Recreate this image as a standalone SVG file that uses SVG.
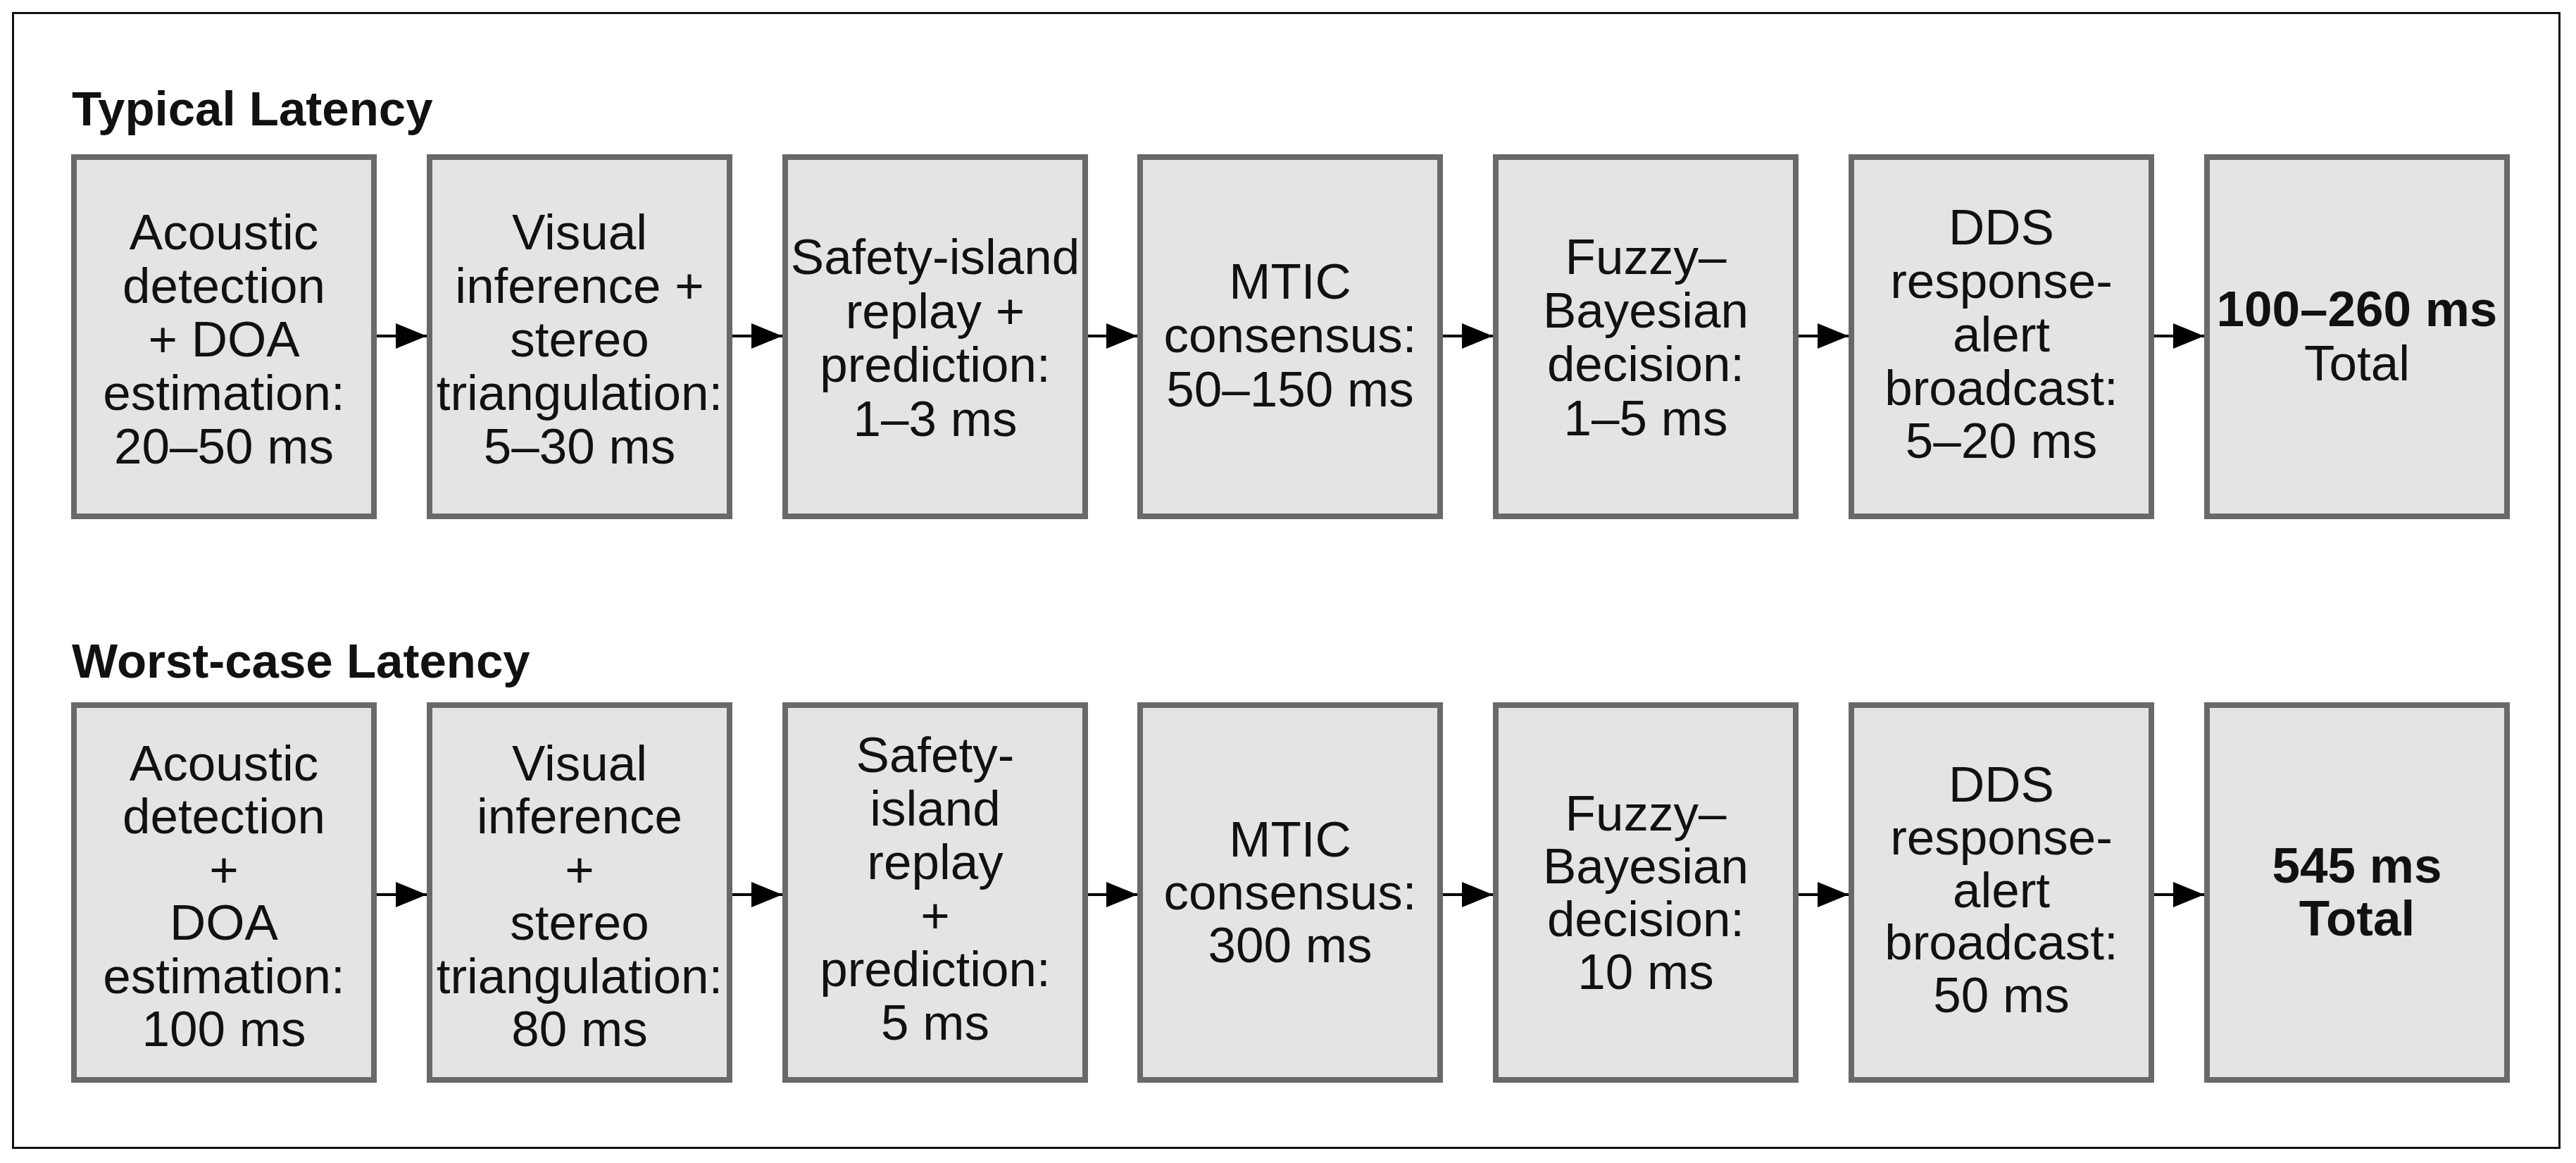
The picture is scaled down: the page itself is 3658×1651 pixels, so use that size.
<svg xmlns="http://www.w3.org/2000/svg" width="3658" height="1651" viewBox="0 0 3658 1651">
<defs>
<marker id="ah" markerUnits="userSpaceOnUse" markerWidth="44" markerHeight="36" refX="44" refY="18" orient="auto">
<path d="M0,0 L44,18 L0,36 Z" fill="#000"/>
</marker>
</defs>
<style>
.box{fill:#e4e4e4;stroke:#696969;stroke-width:8}
.t{font-family:"Liberation Sans",Arial,sans-serif;font-size:71px;fill:#111;text-anchor:middle}
.b{font-weight:bold}
.title{font-family:"Liberation Sans",Arial,sans-serif;font-size:69px;font-weight:bold;fill:#111}
.conn{stroke:#000;stroke-width:4;fill:none;marker-end:url(#ah)}
</style>
<rect x="0" y="0" width="3658" height="1651" fill="#fff"/>
<rect x="18.5" y="18.5" width="3616" height="1611" fill="none" stroke="#111" stroke-width="3"/>
<text class="title" x="102" y="178">Typical Latency</text>
<text class="title" x="102" y="962">Worst-case Latency</text>

<g id="t1"><rect class="box" x="105" y="223" width="426" height="510"/>
<text class="t" x="318"><tspan x="318" y="354">Acoustic</tspan><tspan x="318" y="430">detection</tspan><tspan x="318" y="506">+ DOA</tspan><tspan x="318" y="582">estimation:</tspan><tspan x="318" y="658">20–50 ms</tspan></text></g>
<g id="t2"><rect class="box" x="610" y="223" width="426" height="510"/>
<text class="t" x="823"><tspan x="823" y="354">Visual</tspan><tspan x="823" y="430">inference +</tspan><tspan x="823" y="506">stereo</tspan><tspan x="823" y="582">triangulation:</tspan><tspan x="823" y="658">5–30 ms</tspan></text></g>
<g id="t3"><rect class="box" x="1115" y="223" width="426" height="510"/>
<text class="t" x="1328"><tspan x="1328" y="389">Safety-island</tspan><tspan x="1328" y="466">replay +</tspan><tspan x="1328" y="542">prediction:</tspan><tspan x="1328" y="619">1–3 ms</tspan></text></g>
<g id="t4"><rect class="box" x="1619" y="223" width="426" height="510"/>
<text class="t" x="1832"><tspan x="1832" y="424">MTIC</tspan><tspan x="1832" y="500">consensus:</tspan><tspan x="1832" y="577">50–150 ms</tspan></text></g>
<g id="t5"><rect class="box" x="2124" y="223" width="426" height="510"/>
<text class="t" x="2337"><tspan x="2337" y="389">Fuzzy–</tspan><tspan x="2337" y="465">Bayesian</tspan><tspan x="2337" y="541">decision:</tspan><tspan x="2337" y="618">1–5 ms</tspan></text></g>
<g id="t6"><rect class="box" x="2629" y="223" width="426" height="510"/>
<text class="t" x="2842"><tspan x="2842" y="347">DDS</tspan><tspan x="2842" y="423">response-</tspan><tspan x="2842" y="499">alert</tspan><tspan x="2842" y="575">broadcast:</tspan><tspan x="2842" y="650">5–20 ms</tspan></text></g>
<g id="t7"><rect class="box" x="3134" y="223" width="426" height="510"/>
<text class="t" x="3347"><tspan class="b" x="3347" y="463">100–260 ms</tspan><tspan x="3347" y="540">Total</tspan></text></g>

<g id="w1"><rect class="box" x="105" y="1001" width="426" height="532"/>
<text class="t" x="318"><tspan x="318" y="1108">Acoustic</tspan><tspan x="318" y="1183">detection</tspan><tspan x="318" y="1259">+</tspan><tspan x="318" y="1334">DOA</tspan><tspan x="318" y="1410">estimation:</tspan><tspan x="318" y="1485">100 ms</tspan></text></g>
<g id="w2"><rect class="box" x="610" y="1001" width="426" height="532"/>
<text class="t" x="823"><tspan x="823" y="1108">Visual</tspan><tspan x="823" y="1183">inference</tspan><tspan x="823" y="1259">+</tspan><tspan x="823" y="1334">stereo</tspan><tspan x="823" y="1410">triangulation:</tspan><tspan x="823" y="1485">80 ms</tspan></text></g>
<g id="w3"><rect class="box" x="1115" y="1001" width="426" height="532"/>
<text class="t" x="1328"><tspan x="1328" y="1096">Safety-</tspan><tspan x="1328" y="1172">island</tspan><tspan x="1328" y="1248">replay</tspan><tspan x="1328" y="1324">+</tspan><tspan x="1328" y="1400">prediction:</tspan><tspan x="1328" y="1476">5 ms</tspan></text></g>
<g id="w4"><rect class="box" x="1619" y="1001" width="426" height="532"/>
<text class="t" x="1832"><tspan x="1832" y="1216">MTIC</tspan><tspan x="1832" y="1291">consensus:</tspan><tspan x="1832" y="1366">300 ms</tspan></text></g>
<g id="w5"><rect class="box" x="2124" y="1001" width="426" height="532"/>
<text class="t" x="2337"><tspan x="2337" y="1179">Fuzzy–</tspan><tspan x="2337" y="1254">Bayesian</tspan><tspan x="2337" y="1329">decision:</tspan><tspan x="2337" y="1404">10 ms</tspan></text></g>
<g id="w6"><rect class="box" x="2629" y="1001" width="426" height="532"/>
<text class="t" x="2842"><tspan x="2842" y="1138">DDS</tspan><tspan x="2842" y="1213">response-</tspan><tspan x="2842" y="1288">alert</tspan><tspan x="2842" y="1362">broadcast:</tspan><tspan x="2842" y="1437">50 ms</tspan></text></g>
<g id="w7"><rect class="box" x="3134" y="1001" width="426" height="532"/>
<text class="t b" x="3347"><tspan x="3347" y="1253">545 ms</tspan><tspan x="3347" y="1328">Total</tspan></text></g>

<g id="connectors">
<line class="conn" x1="535" y1="477" x2="606" y2="477"/>
<line class="conn" x1="1040" y1="477" x2="1111" y2="477"/>
<line class="conn" x1="1545" y1="477" x2="1615" y2="477"/>
<line class="conn" x1="2049" y1="477" x2="2120" y2="477"/>
<line class="conn" x1="2554" y1="477" x2="2625" y2="477"/>
<line class="conn" x1="3059" y1="477" x2="3130" y2="477"/>
<line class="conn" x1="535" y1="1270" x2="606" y2="1270"/>
<line class="conn" x1="1040" y1="1270" x2="1111" y2="1270"/>
<line class="conn" x1="1545" y1="1270" x2="1615" y2="1270"/>
<line class="conn" x1="2049" y1="1270" x2="2120" y2="1270"/>
<line class="conn" x1="2554" y1="1270" x2="2625" y2="1270"/>
<line class="conn" x1="3059" y1="1270" x2="3130" y2="1270"/>
</g>
</svg>
